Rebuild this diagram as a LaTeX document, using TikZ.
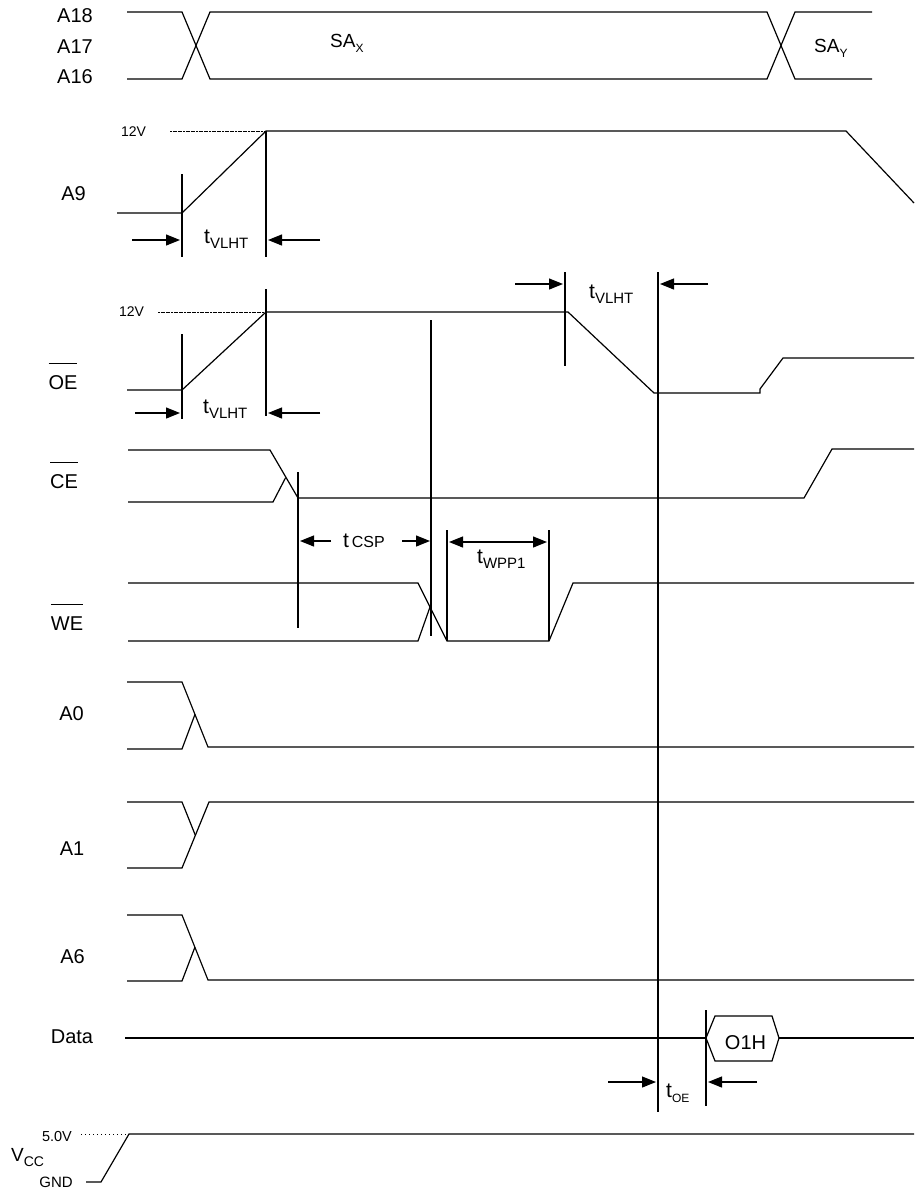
\documentclass[tikz,border=0pt]{standalone}
\usepackage{fontspec}
\setmainfont{Liberation Sans}
\usetikzlibrary{arrows.meta}
\newcommand\fs[1]{\fontsize{#1}{#1}\selectfont}
\newcommand\ovl[1]{\vbox{\hrule height 1.2pt\kern 11pt\hbox{#1}}}
\newcommand\tlab[2][15]{{\fs{21}t}\raisebox{-5pt}{\fs{#1}#2}}
\begin{document}
\begin{tikzpicture}[x=1pt,y=-1pt,
  wave/.style={line width=1.2pt,line join=miter},
  tick/.style={line width=1.2pt},
  dimarrow/.style={line width=1.2pt,-{Triangle[length=14pt,width=11pt]}},
  dimboth/.style={line width=1.2pt,{Triangle[length=14pt,width=11pt]}-{Triangle[length=14pt,width=11pt]}},
  lbl/.style={inner sep=0pt,font=\fs{20},anchor=base},
  tl/.style={inner sep=0pt,anchor=base west},
  small/.style={inner sep=0pt,font=\fs{14},anchor=base},
  dotsA/.style={line width=0.6pt,dash pattern=on 2pt off 0.6pt},
  dotsB/.style={line width=0.8pt,dash pattern=on 1pt off 3pt}]
\useasboundingbox (0,0) rectangle (914,1189);

% ---------- labels ----------
\node[lbl] (la18) at (75,22.5) {A18};
\node[lbl] (la17) at (75,53.5) {A17};
\node[lbl] (la16) at (75,83.5) {A16};
\node[lbl] (la9) at (73.5,200) {A9};
\node[lbl] (loe) at (63,389) {\ovl{OE}};
\node[lbl] (lce) at (64,488) {\ovl{CE}};
\node[lbl] (lwe) at (67,630) {\ovl{WE}};
\node[lbl] (la0) at (71.5,720) {A0};
\node[lbl] (la1) at (72,855) {A1};
\node[lbl] (la6) at (72.5,963) {A6};
\node[lbl] (ldata) at (72,1043) {Data};
\node[small] (v12a) at (133.5,136.7) {12V};
\node[small] (v12b) at (131.5,316.7) {12V};
\node[small,font=\fs{14.5}] (v5) at (57,1141.7) {5.0V};
\node[small,font=\fs{15}] (gnd) at (56,1187) {GND};
\node[tl,font=\fs{19}] (vcc) at (11,1161.7) {V\raisebox{-5pt}{\fs{14}CC}};
\node[tl,font=\fs{19}] (sax) at (330,47) {SA\raisebox{-5pt}{\fs{12}X}};
\node[tl,font=\fs{19}] (say) at (814,52.5) {SA\raisebox{-5pt}{\fs{12}Y}};
\node[lbl] (o1h) at (745.5,1049) {O1H};

% ---------- A18/A17/A16 bus ----------
\draw[wave] (127,12) -- (182,12) -- (210,79) -- (767,79) -- (795,12) -- (872,12);
\draw[wave] (127,79) -- (182,79) -- (210,12) -- (767,12) -- (795,79) -- (872,79);

% ---------- A9 ----------
\draw[dotsA] (170,131) -- (266,131);
\draw[wave] (117,213) -- (182,213) -- (266,131) -- (846,131) -- (914,203);
\coordinate (a9t1) at (182,174); \coordinate (a9b1) at (182,257);
\coordinate (a9t2) at (266,131); \coordinate (a9b2) at (266,257);
\draw[tick] (a9t1) -- (a9b1);
\draw[tick] (a9t2) -- (a9b2);
\coordinate (a9l0) at (132,240); \coordinate (a9l1) at (180,240);
\coordinate (a9r0) at (320,240); \coordinate (a9r1) at (268,240);
\draw[dimarrow] (a9l0) -- (a9l1);
\draw[dimarrow] (a9r0) -- (a9r1);
\node[tl] (tv1) at (204,243) {\tlab{VLHT}};

% ---------- OE ----------
\draw[dotsA] (158,312) -- (266,312);
\draw[wave] (127,390) -- (182,390) -- (266,312) -- (568,312) -- (654,393) -- (760,393) -- (760,389) -- (783,358) -- (914,358);
\draw[tick] (182,334) -- (182,419);
\draw[tick] (266,289) -- (266,416);
\coordinate (oel0) at (135,413); \coordinate (oel1) at (180,413);
\coordinate (oer0) at (320,413); \coordinate (oer1) at (268,413);
\draw[dimarrow] (oel0) -- (oel1);
\draw[dimarrow] (oer0) -- (oer1);
\node[tl] (tv2) at (203,413) {\tlab{VLHT}};
\draw[tick] (565,272) -- (565,366);
\coordinate (oe2l0) at (515,284); \coordinate (oe2l1) at (563,284);
\coordinate (oe2r0) at (708,284); \coordinate (oe2r1) at (660,284);
\draw[dimarrow] (oe2l0) -- (oe2l1);
\draw[dimarrow] (oe2r0) -- (oe2r1);
\node[tl] (tv3) at (589,298) {\tlab{VLHT}};
\draw[tick] (658,272) -- (658,1112);

% ---------- CE ----------
\draw[wave] (128,450) -- (270,450) -- (298,498) -- (804,498) -- (832,449) -- (914,449);
\draw[wave] (128,502) -- (273,502) -- (285.6,477.7);
\draw[tick] (298,472) -- (298,628);
\coordinate (csl0) at (331,541); \coordinate (csl1) at (300,541);
\coordinate (csr0) at (402,541); \coordinate (csr1) at (430,541);
\draw[dimarrow] (csl0) -- (csl1);
\draw[dimarrow] (csr0) -- (csr1);
\node[tl] (tcsp) at (343,547) {{\fs{21}t} {\fs{16}CSP}};
\draw[tick] (431,320) -- (431,636);

% ---------- WE ----------
\draw[wave] (128,583) -- (418,583) -- (447,641) -- (549,641) -- (573,583) -- (914,583);
\draw[wave] (128,641) -- (418,641) -- (430,607);
\draw[tick] (447,530) -- (447,641);
\draw[tick] (549,530) -- (549,641);
\coordinate (wp0) at (449,542); \coordinate (wp1) at (547,542);
\draw[dimboth] (wp0) -- (wp1);
\node[tl] (twpp) at (477,563) {\tlab{WPP1}};

% ---------- A0 / A1 / A6 ----------
\draw[wave] (127,682) -- (182,682) -- (208,747) -- (914,747);
\draw[wave] (127,749) -- (182,749) -- (195,714.3);
\draw[wave] (127,802) -- (182,802) -- (195.4,835.4);
\draw[wave] (127,868) -- (182,868) -- (209,802) -- (914,802);
\draw[wave] (127,915) -- (182,915) -- (208,980) -- (914,980);
\draw[wave] (127,981) -- (182,981) -- (194.9,947.2);

% ---------- Data ----------
\draw[wave] (125,1038) -- (706,1038);
\draw[wave] (706,1038) -- (715,1016) -- (772,1016) -- (779,1038) -- (772,1061) -- (715,1061) -- cycle;
\draw[wave] (779,1038) -- (914,1038);
\draw[tick] (706,1010) -- (706,1106);
\coordinate (dl0) at (608,1082); \coordinate (dl1) at (656,1082);
\coordinate (dr0) at (757,1082); \coordinate (dr1) at (708,1082);
\draw[dimarrow] (dl0) -- (dl1);
\draw[dimarrow] (dr0) -- (dr1);
\node[tl] (toe) at (666,1097) {\tlab[12]{OE}};

% ---------- VCC ----------
\draw[dotsB] (81,1134) -- (129,1134);
\draw[wave] (86,1182) -- (101,1182) -- (129,1134) -- (914,1134);
\end{tikzpicture}
\end{document}
